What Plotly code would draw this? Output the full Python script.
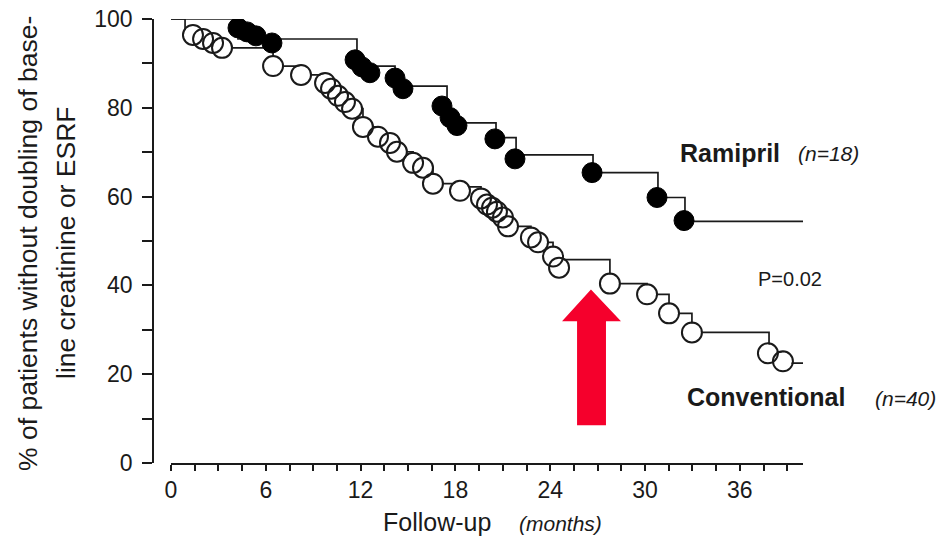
import numpy as np
import plotly.graph_objects as go

# ---------------- data ----------------
# Ramipril (n=18): Kaplan-Meier step curve and filled-circle markers
ram_step_t = [0, 4.24, 11.77, 14.18, 17.47, 20.57, 21.84, 26.71, 30.82, 32.53, 40.0]
ram_step_s = [100, 95.5, 89.4, 84.9, 76.6, 73.3, 69.4, 65.4, 59.8, 54.4, 54.4]
ram_pts_t = [4.24, 4.81, 5.38, 6.39, 11.65, 12.09, 12.59, 14.18, 14.68, 17.15, 17.66,
             18.1, 20.5, 21.77, 26.65, 30.76, 32.47]
ram_pts_s = [98.0, 97.1, 96.2, 94.6, 90.8, 89.2, 87.9, 86.7, 84.3, 80.4, 77.8,
             76.0, 73.0, 68.5, 65.4, 59.8, 54.6]

# Conventional (n=40): step curve and open-circle markers
conv_step_t = [0, 0.89, 1.39, 2.03, 2.66, 3.23, 6.46, 8.23, 9.75, 10.13, 10.57, 11.01,
               11.46, 12.15, 13.1, 13.86, 14.3, 15.32, 15.95, 16.58, 18.29, 19.62, 20.0,
               20.32, 20.63, 21.01, 21.33, 22.78, 23.23, 24.18, 24.56, 27.78, 30.13,
               31.52, 32.97, 37.85, 38.73, 40.0]
conv_step_s = [100, 97.3, 96.4, 95.5, 94.6, 93.5, 89.4, 87.4, 85.6, 84.3, 82.7, 81.3,
               79.8, 75.7, 73.5, 72.1, 70.1, 67.6, 66.5, 62.9, 62.2, 59.6, 58.2,
               57.5, 56.6, 55.3, 53.3, 50.8, 49.7, 46.5, 45.8, 40.4, 38.0,
               33.7, 29.4, 24.9, 22.5, 22.5]
conv_pts_t = [1.39, 2.03, 2.66, 3.23, 6.46, 8.23, 9.75, 10.13, 10.57, 11.01, 11.46,
              12.15, 13.1, 13.86, 14.3, 15.32, 15.95, 16.58, 18.29, 19.62, 20.0, 20.32,
              20.63, 21.01, 21.33, 22.78, 23.23, 24.18, 24.56, 27.78, 30.13, 31.52,
              32.97, 37.78, 38.73]
conv_pts_s = [96.4, 95.5, 94.6, 93.5, 89.4, 87.4, 85.6, 84.3, 82.7, 81.3, 79.8,
              75.7, 73.5, 72.1, 70.1, 67.6, 66.5, 62.9, 61.3, 59.6, 58.2, 57.5,
              56.6, 55.3, 53.3, 50.8, 49.7, 46.5, 44.0, 40.4, 38.0, 33.7,
              29.4, 24.7, 22.9]

x_label_months = [0, 6, 12, 18, 24, 30, 36]
y_label_values = [0, 20, 40, 60, 80, 100]

# ---------------- figure ----------------
W, H = 941, 542
FONT = "Liberation Sans, Arial, sans-serif"
INK = "#1a1a1a"


def px(x):
    return x / W


def py(y):
    return 1 - y / H


fig = go.Figure()

# step lines
fig.add_trace(go.Scatter(x=conv_step_t, y=conv_step_s, mode="lines",
                         line=dict(color=INK, width=1.7, shape="hv"),
                         hoverinfo="skip", showlegend=False))
fig.add_trace(go.Scatter(x=ram_step_t, y=ram_step_s, mode="lines",
                         line=dict(color=INK, width=1.7, shape="hv"),
                         hoverinfo="skip", showlegend=False))
# open circles: white interior layer, then transparent outlines on top
fig.add_trace(go.Scatter(x=conv_pts_t, y=conv_pts_s, mode="markers",
                         marker=dict(symbol="circle", size=18, color="white",
                                     line=dict(width=0)),
                         hoverinfo="skip", showlegend=False))
fig.add_trace(go.Scatter(x=conv_pts_t, y=conv_pts_s, mode="markers",
                         marker=dict(symbol="circle-open", size=20, color=INK,
                                     line=dict(width=2.0, color=INK)),
                         name="Conventional", showlegend=False))
# filled circles
fig.add_trace(go.Scatter(x=ram_pts_t, y=ram_pts_s, mode="markers",
                         marker=dict(symbol="circle", size=20, color="black",
                                     line=dict(width=1, color="black")),
                         name="Ramipril", showlegend=False))

# x axis ticks every 1.5 months, labels every 6 months
xt = list(np.arange(0, 39.01, 1.5))
xtt = [str(int(v)) if any(abs(v - m) < 1e-9 for m in x_label_months) else "" for v in xt]
yt = list(range(0, 101, 10))
ytt = [str(v) if v in y_label_values else "" for v in yt]

fig.update_layout(
    width=W, height=H, autosize=False,
    margin=dict(l=0, r=0, t=0, b=0, pad=0, autoexpand=False),
    paper_bgcolor="white", plot_bgcolor="white",
    xaxis=dict(domain=[px(171), px(803)], range=[0, 40], showgrid=False, zeroline=False,
               showline=True, linecolor=INK, linewidth=1.7, automargin=False,
               ticks="outside", ticklen=6, tickwidth=1.6, tickcolor=INK,
               tickvals=xt, ticktext=xtt,
               tickfont=dict(family=FONT, size=23, color=INK), anchor="y"),
    yaxis=dict(domain=[py(463), py(19)], range=[0, 100], showgrid=False, zeroline=False,
               showline=True, linecolor=INK, linewidth=1.7, automargin=False,
               ticks="outside", ticklen=10, tickwidth=1.6, tickcolor=INK,
               tickvals=yt, ticktext=ytt, ticklabelstandoff=5,
               tickfont=dict(family=FONT, size=23, color=INK),
               anchor="free", position=px(153)),
)

def txt(text, x, y, size, bold=False, italic=False, angle=0):
    if bold:
        text = "<b>" + text + "</b>"
    if italic:
        text = "<i>" + text + "</i>"
    fig.add_annotation(text=text, x=px(x), y=py(y), xref="paper", yref="paper",
                       xanchor="center", yanchor="middle", showarrow=False,
                       textangle=angle,
                       font=dict(family=FONT, size=size, color=INK))

# axis titles
txt("% of patients without doubling of base-", 28, 244, 26.5, angle=-90)
txt("line creatinine or ESRF", 66, 243, 26.5, angle=-90)
txt("Follow-up", 437, 522, 25)
txt("(months)", 560, 523, 21, italic=True)

# series labels
txt("Ramipril", 730, 153, 25, bold=True)
txt("(n=18)", 828, 154, 21, italic=True)
txt("Conventional", 766, 397, 25, bold=True)
txt("(n=40)", 905, 398, 21, italic=True)
txt("P=0.02", 790, 279, 20)

# red arrow (in data coordinates)
tip_t, tip_s = 26.58, 39.1
head_l, head_r = 24.75, 28.48
shaft_l, shaft_r = 25.7, 27.53
base_s, bottom_s = 31.9, 8.5
path = (f"M {tip_t},{tip_s} L {head_r},{base_s} L {shaft_r},{base_s} L {shaft_r},{bottom_s} "
        f"L {shaft_l},{bottom_s} L {shaft_l},{base_s} L {head_l},{base_s} Z")
fig.add_shape(type="path", path=path, xref="x", yref="y",
              fillcolor="#f5002c", line=dict(width=0), layer="above")

fig.write_html("out.html")
